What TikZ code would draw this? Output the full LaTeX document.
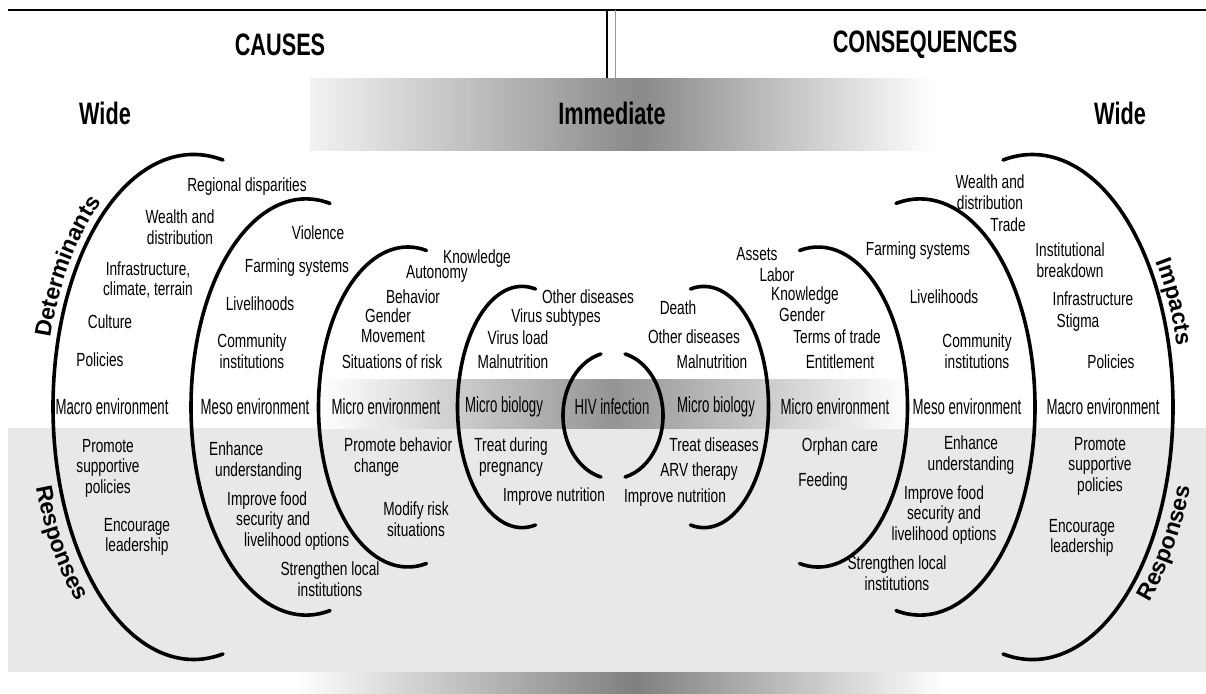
\documentclass[tikz,border=0pt]{standalone}
\usepackage{fontspec}
\setmainfont{Liberation Sans}[FakeStretch=0.72]
\newfontfamily\bandfont{Liberation Sans}[FakeStretch=0.6]
\newfontfamily\headfont{Liberation Sans}[FakeStretch=0.7]
\newfontfamily\curvefont{Liberation Sans}
\usetikzlibrary{decorations.text}

\begin{document}
\begin{tikzpicture}[x=1pt, y=1pt,
        item/.style={font=\fontsize{19}{20.5}\selectfont, align=center, inner sep=0pt},
        zone/.style={font=\bandfont\fontsize{22}{22}\selectfont, inner sep=0pt},
        head/.style={font=\headfont\bfseries\fontsize{31}{31}\selectfont, inner sep=0pt},
        ring/.style={line width=3.6pt, line cap=round},
        curved/.style={decorate, decoration={text along path, text align=center,
            text={|\curvefont\bfseries\fontsize{23}{23}\selectfont|#1}}}]
        \useasboundingbox (0,0) rectangle (1206,-693);

        % backgrounds
        \fill[black!9] (8,-428) rectangle (1206,-672);
        \shade[left color=black!5, right color=black!46] (310,-78) rectangle (640,-150);
        \shade[left color=black!46, right color=white] (640,-78) rectangle (934,-150);
        \shade[left color=white, right color=black!42] (320,-379) rectangle (613,-428);
        \shade[left color=black!42, right color=white] (613,-379) rectangle (910,-428);
        \shade[left color=white, right color=black!50] (295,-672) rectangle (634,-693);
        \shade[left color=black!50, right color=white] (634,-672) rectangle (946,-693);

        \draw[line width=1.2pt] (8,-10) -- (1206,-10);
        \draw[line width=1.2pt] (607,-10) -- (607,-78);
        \draw[black!40, line width=1pt] (615,-10) -- (615,-78);

        \node[head] (causes) at (280,-45) {CAUSES};
        \node[head] (consequences) at (925,-45) {CONSEQUENCES};
        \node[head] (wideL) at (105,-113) {Wide};
        \node[head] (immediate) at (612,-113) {Immediate};
        \node[head] (wideR) at (1120,-113) {Wide};

        % rings, left and mirrored right
        \foreach \cx/\a/\b in {193.7/140.7/252.5, 306.1/115.1/208.1, 407.9/89.4/160, 522.1/64.6/120.6}{
            \draw[ring] (\cx,-407) ++(78:{\a} and {\b}) arc[start angle=78, end angle=282, x radius=\a, y radius=\b];
            \draw[ring] ({1226-\cx},-407) ++(-102:{\a} and {\b}) arc[start angle=-102, end angle=102, x radius=\a, y radius=\b];
        }
        \draw[ring] (613,-415.5) ++(104:50 and 63.4) arc[start angle=104, end angle=256, x radius=50, y radius=63.4];
        \draw[ring] (613,-415.5) ++(-76:50 and 63.4) arc[start angle=-76, end angle=76, x radius=50, y radius=63.4];

        \path[curved=Determinants] (193.7,-407) ++(172:148.7 and 260.5) arc[start angle=172, end angle=118, x radius=148.7, y radius=260.5];
        \path[curved=Impacts] (1032.3,-407) ++(50:148.7 and 260.5) arc[start angle=50, end angle=0, x radius=148.7, y radius=260.5];
        \path[curved=Responses] (193.7,-407) ++(185:164.7 and 276.5) arc[start angle=185, end angle=240, x radius=164.7, y radius=276.5];
        \path[curved=Responses] (1032.3,-407) ++(-60:164.7 and 276.5) arc[start angle=-60, end angle=-5, x radius=164.7, y radius=276.5];

        \node[zone] (macroL) at (112,-407) {Macro environment};
        \node[zone] (mesoL) at (255,-407) {Meso environment};
        \node[zone] (microL) at (386,-407) {Micro environment};
        \node[zone] (bioL) at (504,-407) {Micro biology};
        \node[zone] (hiv) at (612,-407) {HIV infection};
        \node[zone] (bioR) at (716,-407) {Micro biology};
        \node[zone] (microR) at (835,-407) {Micro environment};
        \node[zone] (mesoR) at (967,-407) {Meso environment};
        \node[zone] (macroR) at (1103,-407) {Macro environment};

        % causes
        \node[item] (regional) at (247,-187) {Regional disparities};
        \node[item] (wealthL) at (180,-227) {Wealth and\\distribution};
        \node[item] (infraL) at (148,-280) {Infrastructure,\\climate, terrain};
        \node[item] (culture) at (110,-322) {Culture};
        \node[item] (policiesL) at (100,-360) {Policies};
        \node[item] (violence) at (318,-233) {Violence};
        \node[item] (farmingL) at (297,-268) {Farming systems};
        \node[item] (livelihoodsL) at (260,-304) {Livelihoods};
        \node[item] (communityL) at (252,-351) {Community\\institutions};
        \node[item] (knowledgeL) at (477,-259) {Knowledge};
        \node[item] (autonomy) at (437,-274) {Autonomy};
        \node[item] (behavior) at (413,-297) {Behavior};
        \node[item] (genderL) at (388,-316) {Gender};
        \node[item] (movement) at (393,-336) {Movement};
        \node[item] (risk) at (392,-362) {Situations of risk};
        \node[item] (otherL) at (588,-297) {Other diseases};
        \node[item] (subtypes) at (556,-318) {Virus subtypes};
        \node[item] (load) at (518,-338) {Virus load};
        \node[item] (malnutL) at (513,-362) {Malnutrition};

        % consequences
        \node[item] (death) at (678,-308) {Death};
        \node[item] (otherR) at (694,-337) {Other diseases};
        \node[item] (malnutR) at (712,-362) {Malnutrition};
        \node[item] (assets) at (757,-254) {Assets};
        \node[item] (labor) at (777,-275) {Labor};
        \node[item] (knowledgeR) at (805,-296) {Knowledge};
        \node[item] (genderR) at (802,-315) {Gender};
        \node[item] (terms) at (837,-337) {Terms of trade};
        \node[item] (entitlement) at (840,-362) {Entitlement};
        \node[item] (farmingR) at (918,-251) {Farming systems};
        \node[item] (livelihoodsR) at (944,-297) {Livelihoods};
        \node[item] (communityR) at (977,-351) {Community\\institutions};
        \node[item] (wealthR) at (990,-192) {Wealth and\\distribution};
        \node[item] (trade) at (1008,-225) {Trade};
        \node[item] (institutional) at (1070,-260) {Institutional\\breakdown};
        \node[item] (infraR) at (1093,-299) {Infrastructure};
        \node[item] (stigma) at (1078,-323) {Stigma};
        \node[item] (policiesR) at (1111,-362) {Policies};

        % responses
        \node[item] (promoteL) at (108,-468) {Promote\\supportive\\policies};
        \node[item] (encourageL) at (137,-537) {Encourage\\leadership};
        \node[item, align=left, anchor=west] (enhanceL) at (209,-461) {Enhance\\\hspace{6pt}understanding};
        \node[item, align=left, anchor=west] (foodL) at (227,-521) {Improve food\\\hspace{9pt}security and\\\hspace{17pt}livelihood options};
        \node[item] (strengthenL) at (330,-579) {Strengthen local\\institutions};
        \node[item, align=left, anchor=west] (behaviorchange) at (344,-457) {Promote behavior\\\hspace{10pt}change};
        \node[item] (modify) at (416,-519) {Modify risk\\situations};
        \node[item] (pregnancy) at (511,-457) {Treat during\\pregnancy};
        \node[item] (nutritionL) at (554,-497) {Improve nutrition};
        \node[item] (diseases) at (714,-445) {Treat diseases};
        \node[item] (arv) at (699,-472) {ARV therapy};
        \node[item] (nutritionR) at (675,-498) {Improve nutrition};
        \node[item] (orphan) at (840,-447) {Orphan care};
        \node[item] (feeding) at (823,-482) {Feeding};
        \node[item] (enhanceR) at (971,-455) {Enhance\\understanding};
        \node[item] (foodR) at (944,-515) {Improve food\\security and\\livelihood options};
        \node[item] (strengthenR) at (897,-573) {Strengthen local\\institutions};
        \node[item] (promoteR) at (1100,-466) {Promote\\supportive\\policies};
        \node[item] (encourageR) at (1082,-538) {Encourage\\leadership};
\end{tikzpicture}
\end{document}
